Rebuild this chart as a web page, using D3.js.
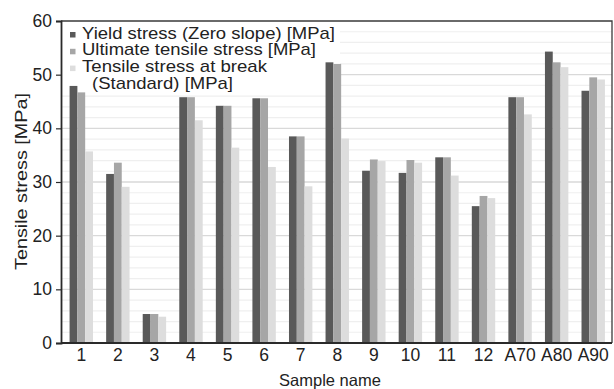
<!DOCTYPE html>
<html>
<head>
<meta charset="utf-8">
<script src="https://cdn.jsdelivr.net/npm/d3@7"></script>
<style>
  html, body { margin: 0; padding: 0; background: #fff; }
  svg { display: block; font-family: "Liberation Sans", Arial, sans-serif; }
</style>
</head>
<body>
<svg id="chart" width="614" height="389"></svg>
<script>
// Sample names on the x axis
const categories = ["1", "2", "3", "4", "5", "6", "7", "8", "9", "10", "11", "12", "A70", "A80", "A90"];

// Series values [MPa]
const yieldStress    = [47.9, 31.5, 5.4, 45.8, 44.2, 45.6, 38.5, 52.3, 32.1, 31.7, 34.6, 25.5, 45.8, 54.3, 47.0];
const ultimateStress = [46.7, 33.6, 5.4, 45.8, 44.2, 45.6, 38.5, 52.0, 34.2, 34.1, 34.6, 27.4, 45.8, 52.3, 49.5];
const breakStress    = [35.7, 29.1, 4.9, 41.5, 36.4, 32.8, 29.2, 38.1, 33.9, 33.6, 31.2, 27.0, 42.6, 51.4, 49.1];

const seriesNames = ["Yield stress (Zero slope) [MPa]", "Ultimate tensile stress [MPa]", "Tensile stress at break", "(Standard) [MPa]"];
const yTicks = [0, 10, 20, 30, 40, 50, 60];

const series = [
  { key: "yield", values: yieldStress, color: "#595959" },
  { key: "ultimate", values: ultimateStress, color: "#a6a6a6" },
  { key: "break", values: breakStress, color: "#dddddd" }
];

const svg = d3.select("#chart");
const plot = { left: 61, right: 612, top: 21, bottom: 343 };

const x = d3.scaleBand().domain(categories).range([63, 611.5]).paddingInner(0.36).paddingOuter(0.18);
const xs = d3.scaleBand().domain(series.map(s => s.key)).range([0, x.bandwidth()]);
const y = d3.scaleLinear().domain([0, 60]).range([plot.bottom, plot.top]);

// Gridlines: light every 2 MPa, stronger every 10 MPa
const g = svg.append("g");
g.selectAll("line.minor").data(d3.range(2, 60, 2).filter(v => v % 10 !== 0)).join("line")
  .attr("x1", plot.left).attr("x2", plot.right)
  .attr("y1", d => y(d)).attr("y2", d => y(d))
  .attr("stroke", "#efefef").attr("stroke-width", 1.2);
g.selectAll("line.major").data(yTicks.filter(v => v > 0 && v < 60)).join("line")
  .attr("x1", plot.left).attr("x2", plot.right)
  .attr("y1", d => y(d)).attr("y2", d => y(d))
  .attr("stroke", "#d9d9d9").attr("stroke-width", 1.4);

// Legend background hides the gridlines behind it
svg.append("rect").attr("x", plot.left + 1).attr("y", plot.top + 1)
  .attr("width", 278).attr("height", 70).attr("fill", "#fff");

// Bars
const groups = svg.append("g").selectAll("g").data(categories).join("g")
  .attr("transform", d => `translate(${x(d)},0)`);
groups.selectAll("rect").data((d, i) => series.map(s => ({ key: s.key, v: s.values[i], color: s.color })))
  .join("rect")
  .attr("x", d => xs(d.key))
  .attr("width", xs.bandwidth())
  .attr("y", d => y(d.v))
  .attr("height", d => y(0) - y(d.v))
  .attr("fill", d => d.color);

// Frame: top and right edges
svg.append("path")
  .attr("d", `M${plot.left},${plot.top}H${plot.right}V${plot.bottom}`)
  .attr("fill", "none").attr("stroke", "#3a3a3a").attr("stroke-width", 1.3);

// Y axis
const yAxis = svg.append("g").attr("transform", `translate(${plot.left},0)`)
  .call(d3.axisLeft(y).tickValues(yTicks).tickSize(5).tickPadding(4));
yAxis.select(".domain").attr("stroke", "#2a2a2a").attr("stroke-width", 1.8);
yAxis.selectAll(".tick line").attr("stroke", "#2a2a2a").attr("stroke-width", 1.2);
yAxis.selectAll(".tick text").attr("font-size", 17.5).attr("fill", "#222")
  .attr("font-family", "Liberation Sans, Arial, sans-serif");

// X axis
const xAxis = svg.append("g").attr("transform", `translate(0,${plot.bottom})`)
  .call(d3.axisBottom(x).tickSize(0).tickPadding(6));
xAxis.select(".domain").attr("d", `M${plot.left},0H${plot.right}`)
  .attr("stroke", "#2a2a2a").attr("stroke-width", 1.8);
xAxis.selectAll(".tick text").attr("font-size", 17.5).attr("fill", "#222")
  .attr("font-family", "Liberation Sans, Arial, sans-serif");

// Axis titles
svg.append("text").attr("x", 330).attr("y", 386).attr("text-anchor", "middle")
  .attr("font-size", 16.5).attr("fill", "#222").text("Sample name");
svg.append("text").attr("transform", "translate(27,181.5) rotate(-90)")
  .attr("text-anchor", "middle").attr("font-size", 17).attr("fill", "#222")
  .attr("textLength", 177).attr("lengthAdjust", "spacingAndGlyphs")
  .text("Tensile stress [MPa]");

// Legend
const legendRows = [
  { text: seriesNames[0], color: series[0].color, x: 82, y: 38.5, len: 253 },
  { text: seriesNames[1], color: series[1].color, x: 82, y: 55.3, len: 234 },
  { text: seriesNames[2], color: series[2].color, x: 82, y: 72.1, len: 185 },
  { text: seriesNames[3], color: null, x: 92, y: 88.9, len: 141 }
];
const leg = svg.append("g");
leg.selectAll("rect").data(legendRows.filter(r => r.color)).join("rect")
  .attr("x", 70).attr("y", d => d.y - 6.5).attr("width", 5.5).attr("height", 5.5)
  .attr("fill", d => d.color);
leg.selectAll("text").data(legendRows).join("text")
  .attr("x", d => d.x).attr("y", d => d.y)
  .attr("font-size", 16.2).attr("fill", "#222")
  .attr("textLength", d => d.len).attr("lengthAdjust", "spacingAndGlyphs")
  .text(d => d.text);
</script>
</body>
</html>
